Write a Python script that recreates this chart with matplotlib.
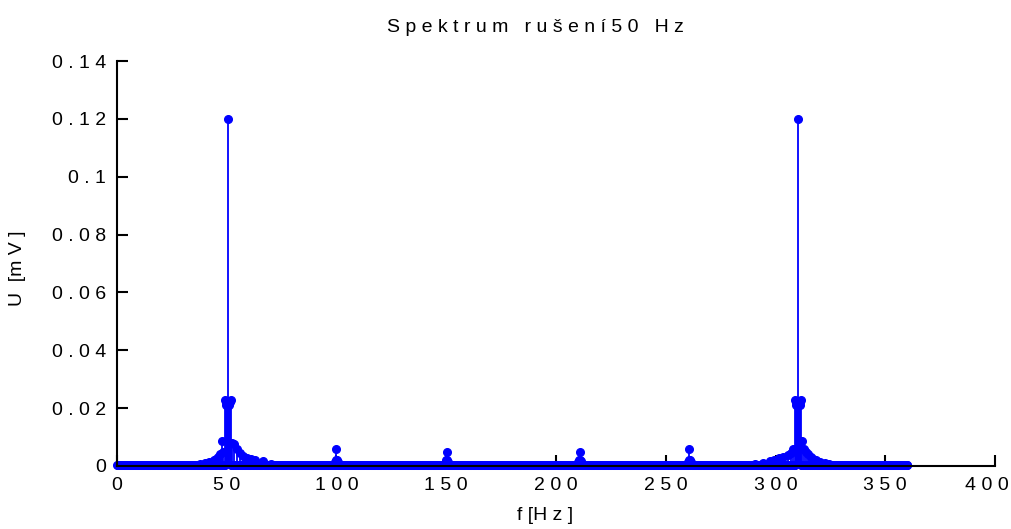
import numpy as np
import matplotlib.pyplot as plt
import matplotlib.transforms as mtransforms
from matplotlib import font_manager

# frequency grid of the spectrum [Hz]
f_step = 0.25
f_max = 360.0
noise_floor = 0.0005

# peak clusters: (frequency Hz, amplitude mV)
cluster_50 = [
    (38, 0.0008), (40, 0.001), (42, 0.0014), (44, 0.002), (45, 0.0025),
    (46, 0.003), (47, 0.004), (47.75, 0.0086), (48.5, 0.005),
    (49.25, 0.0228), (49.5, 0.022), (49.75, 0.021), (50.0, 0.022), (50.25, 0.0225),
    (50.5, 0.12),
    (50.75, 0.0225), (51.0, 0.022), (51.25, 0.021), (51.5, 0.022), (51.75, 0.0228),
    (52.5, 0.008), (53.5, 0.0076), (54.5, 0.006), (56, 0.0045), (57.5, 0.0035),
    (59, 0.0028), (61, 0.0024), (63, 0.002), (66.5, 0.0017), (70, 0.0008),
]
cluster_310 = [
    (290.5, 0.0008), (294.5, 0.0012), (297.5, 0.0017), (299.5, 0.0022), (301.5, 0.0026),
    (303.5, 0.003), (305.5, 0.0038), (307, 0.0045), (308, 0.006),
    (309.0, 0.0228), (309.25, 0.022), (309.5, 0.021), (309.75, 0.022), (310.0, 0.0225),
    (310.25, 0.12),
    (310.5, 0.0225), (310.75, 0.022), (311.0, 0.021), (311.25, 0.022), (311.5, 0.0228),
    (312.25, 0.0086), (313, 0.006), (314, 0.005), (315, 0.004), (316, 0.003),
    (317, 0.0025), (318.5, 0.002), (320.5, 0.0014), (322.5, 0.001), (324.5, 0.0008),
]
harmonics = [
    (99.5, 0.0015), (99.75, 0.0022), (100.0, 0.0059), (100.25, 0.0022), (100.75, 0.0015),
    (149.75, 0.0015), (150.0, 0.0022), (150.25, 0.0048), (150.5, 0.0022), (151.0, 0.0014),
    (210.0, 0.0014), (210.5, 0.0022), (210.75, 0.0050), (211.0, 0.0022), (211.5, 0.0016),
    (260.0, 0.0015), (260.5, 0.0022), (260.75, 0.0060), (261.0, 0.0022), (261.5, 0.0014),
]

f = np.arange(0, f_max + f_step / 2, f_step)
U = np.full(f.size, noise_floor)
for fr, val in cluster_50 + cluster_310 + harmonics:
    U[int(round(fr / f_step))] = val

avail = {fe.name for fe in font_manager.fontManager.ttflist}
fam = [n for n in ['Liberation Sans Narrow', 'Liberation Sans', 'DejaVu Sans'] if n in avail]
plt.rcParams['font.family'] = fam


def spaced(s, sep=' '):
    return sep.join(s)


fig = plt.figure(figsize=(10.12, 5.29), dpi=100)
ax = fig.add_axes([117 / 1012, 1 - 466 / 529, (995 - 117) / 1012, (466 - 61) / 529])

markerline, stemlines, baseline = ax.stem(f, U, linefmt='-', markerfmt='o', basefmt='k-')
plt.setp(stemlines, color='#0000ff', linewidth=1.3)
plt.setp(markerline, color='#0000ff', markersize=5.5)
plt.setp(baseline, color='k', linewidth=1.5, zorder=1)

ax.set_xlim(0, 400)
ax.set_ylim(0, 0.14)
xt = [0, 50, 100, 150, 200, 250, 300, 350, 400]
yt = [0, 0.02, 0.04, 0.06, 0.08, 0.1, 0.12, 0.14]
ax.set_xticks(xt)
ax.set_xticklabels([spaced(str(v), '\u2009\u200a') for v in xt])
ax.set_yticks(yt)
ax.set_yticklabels([spaced(('%g' % v)) for v in yt])
ax.tick_params(direction='in', length=8, width=1.5, labelsize=14, pad=8)
for s in ['top', 'right']:
    ax.spines[s].set_visible(False)
for s in ['left', 'bottom']:
    ax.spines[s].set_linewidth(1.5)
markerline.set_clip_on(False)

# nudge the last x label so it stays inside the canvas
last = ax.get_xticklabels()[-1]
last.set_transform(last.get_transform() +
                   mtransforms.ScaledTranslation(-8 / 100, 0, fig.dpi_scale_trans))

fig.text(535 / 1012, 1 - 28 / 529, 'S p e k t r u m   r u š e n í 5 0   H z',
         ha='center', va='center', fontsize=14)
fig.text(545 / 1012, 1 - 515 / 529, 'f [H z ]', ha='center', va='center', fontsize=14)
fig.text(18 / 1012, 1 - 268 / 529, 'U  [m V ]', ha='center', va='center',
         rotation=90, fontsize=14)

fig.savefig('out.png', dpi=100)
